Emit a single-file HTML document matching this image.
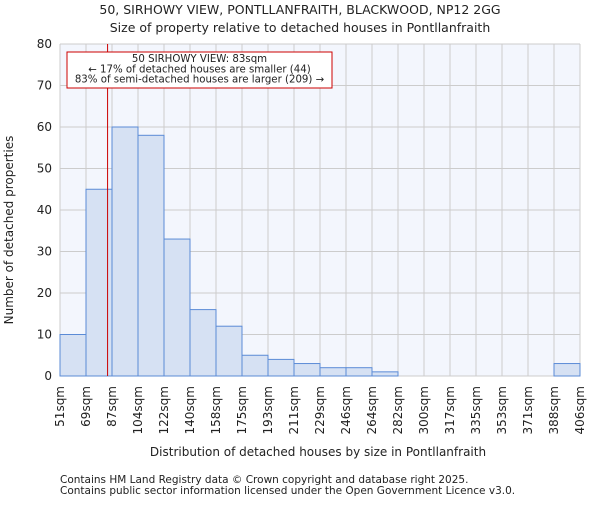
<!DOCTYPE html>
<html><head><meta charset="utf-8"><style>
body{margin:0;background:#fff;}
text{font-family:"DejaVu Sans","Liberation Sans",sans-serif;fill:#222;}
</style></head><body>
<svg id="chart" width="600" height="500" xmlns="http://www.w3.org/2000/svg">
<text x="300" y="14" text-anchor="middle" font-size="12.5">50, SIRHOWY VIEW, PONTLLANFRAITH, BLACKWOOD, NP12 2GG</text>
<text x="300" y="32" text-anchor="middle" font-size="12.5">Size of property relative to detached houses in Pontllanfraith</text>
<rect x="60" y="44" width="520" height="332" fill="#f3f6fd"/>
<g id="grid"></g><g id="bars"></g><g id="axes"></g>
<text transform="translate(13,230) rotate(-90)" text-anchor="middle" font-size="12">Number of detached properties</text>
<text x="318" y="456" text-anchor="middle" font-size="12">Distribution of detached houses by size in Pontllanfraith</text>
<text x="60" y="483" font-size="10.5" fill="#555">Contains HM Land Registry data © Crown copyright and database right 2025.</text>
<text x="60" y="494" font-size="10.5" fill="#555">Contains public sector information licensed under the Open Government Licence v3.0.</text>
</svg>
<script>
const labels=["51sqm","69sqm","87sqm","104sqm","122sqm","140sqm","158sqm","175sqm","193sqm","211sqm","229sqm","246sqm","264sqm","282sqm","300sqm","317sqm","335sqm","353sqm","371sqm","388sqm","406sqm"];
const counts=[10,45,60,58,33,16,12,5,4,3,2,2,1,0,0,0,0,0,0,3];
const yTicks=[0,10,20,30,40,50,60,70,80];
const markerBin=1.83;
const NS="http://www.w3.org/2000/svg";
const L=60,R=580,T=44,B=376;
const n=counts.length;
const xs=i=>L+(R-L)*i/n;
const ys=v=>B-(B-T)*v/80;
function mk(tag,at,parent){const e=document.createElementNS(NS,tag);for(const k in at)e.setAttribute(k,at[k]);parent.appendChild(e);return e;}
const grid=document.getElementById('grid'),bars=document.getElementById('bars'),axes=document.getElementById('axes');
yTicks.forEach(v=>{
 const g=mk('line',{x1:L,x2:R,y1:ys(v),y2:ys(v),stroke:'#cccccc','stroke-width':1},grid);
 
 
 const t=mk('text',{x:L-8,y:ys(v)+4,'text-anchor':'end','font-size':12},axes);
 t.textContent=v;
 
 
});
labels.forEach((lb,i)=>{
 const g=mk('line',{x1:xs(i),x2:xs(i),y1:T,y2:B,stroke:'#cccccc','stroke-width':1},grid);
 
 
 const t=mk('text',{transform:`translate(${xs(i)+4},${B+10}) rotate(-90)`,'text-anchor':'end','font-size':12},axes);
 t.textContent=lb;
 
 
});
counts.forEach((c,i)=>{
 if(c<=0)return;
 const r=mk('rect',{x:xs(i),y:ys(c),width:xs(i+1)-xs(i),height:B-ys(c),fill:'#d6e1f3',stroke:'#5b8bd6','stroke-width':1},bars);
 
 
});
const mx=xs(markerBin);
const ml=mk('line',{x1:mx,x2:mx,y1:T,y2:B,stroke:'#cc0000','stroke-width':1},axes);


const bx=mk('rect',{x:67,y:52,width:265,height:36,fill:'#fff',stroke:'#cc0000','stroke-width':1},axes);


["50 SIRHOWY VIEW: 83sqm","← 17% of detached houses are smaller (44)","83% of semi-detached houses are larger (209) →"].forEach((s,k)=>{
 const t=mk('text',{x:199.5,y:62+k*10.3,'text-anchor':'middle','font-size':10.2},axes);
 t.textContent=s;
 
 
});
</script>
</body></html>
